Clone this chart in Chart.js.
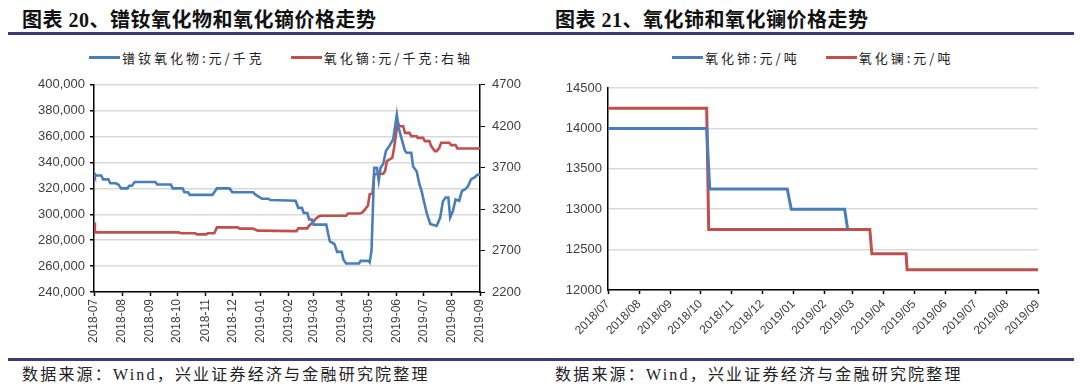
<!DOCTYPE html>
<html>
<head>
<meta charset="utf-8">
<script src="https://cdn.jsdelivr.net/npm/chart.js@4.4.0/dist/chart.umd.min.js"></script>
<style>
body{margin:0;width:1080px;height:389px;background:#fff;position:relative;overflow:hidden;}
.title{position:absolute;top:4px;font:bold 20px "Liberation Serif","Noto Sans CJK SC",serif;color:#111;letter-spacing:0.5px;white-space:nowrap;}
.rule{position:absolute;left:8px;width:1066px;height:3px;background:#3a3b78;}
.foot{position:absolute;top:361px;font:16px "Liberation Serif","Noto Sans CJK SC",serif;color:#222;letter-spacing:2.2px;white-space:nowrap;}
.legend{position:absolute;top:49px;height:16px;display:flex;align-items:center;gap:26px;font:13px "Noto Sans CJK SC",sans-serif;color:#222;letter-spacing:3px;white-space:nowrap;}
.legend span.ln{display:inline-block;width:31px;height:3px;margin-right:2px;vertical-align:middle;}
.legend div{display:flex;align-items:center;}
.box{position:absolute;top:70px;width:540px;height:285px;}
</style>
</head>
<body>
<div class="title" style="left:22px">图表 20、镨钕氧化物和氧化镝价格走势</div>
<div class="title" style="left:555px">图表 21、氧化铈和氧化镧价格走势</div>
<div class="rule" style="top:32px"></div>
<div class="legend" id="leg1" style="left:89px"></div>
<div class="legend" id="leg2" style="left:672px"></div>
<div class="box" style="left:0"><canvas id="c1"></canvas></div>
<div class="box" style="left:540px"><canvas id="c2"></canvas></div>
<div class="rule" style="top:358px"></div>
<div class="foot" style="left:22px">数据来源：Wind，兴业证券经济与金融研究院整理</div>
<div class="foot" style="left:555px">数据来源：Wind，兴业证券经济与金融研究院整理</div>
<script>
// month ticks
var months1 = ['2018-07','2018-08','2018-09','2018-10','2018-11','2018-12','2019-01','2019-02','2019-03','2019-04','2019-05','2019-06','2019-07','2019-08','2019-09'];
var months2 = ['2018/07','2018/08','2018/09','2018/10','2018/11','2018/12','2019/01','2019/02','2019/03','2019/04','2019/05','2019/06','2019/07','2019/08','2019/09'];

// 镨钕氧化物 元/千克 (left axis)
var prndDates = ['2018-07-01','2018-07-02','2018-07-09','2018-07-11','2018-07-17','2018-07-19','2018-07-25','2018-07-28','2018-07-31','2018-08-07','2018-08-09','2018-08-12','2018-08-15','2018-09-07','2018-09-09','2018-09-24','2018-09-26','2018-10-07','2018-10-09','2018-10-13','2018-10-15','2018-11-09','2018-11-11','2018-11-14','2018-11-28','2018-12-01','2018-12-24','2018-12-27','2019-01-03','2019-01-10','2019-01-12','2019-02-09','2019-02-12','2019-02-16','2019-02-18','2019-02-22','2019-02-24','2019-02-27','2019-03-01','2019-03-15','2019-03-17','2019-03-19','2019-03-24','2019-03-27','2019-04-01','2019-04-03','2019-04-06','2019-04-20','2019-04-22','2019-05-01','2019-05-02','2019-05-04','2019-05-07','2019-05-10','2019-05-12','2019-05-14','2019-05-17','2019-05-20','2019-05-24','2019-05-28','2019-06-01','2019-06-03','2019-06-06','2019-06-10','2019-06-12','2019-06-17','2019-06-19','2019-06-23','2019-06-26','2019-06-28','2019-07-01','2019-07-04','2019-07-08','2019-07-15','2019-07-19','2019-07-22','2019-07-25','2019-07-28','2019-07-30','2019-08-02','2019-08-05','2019-08-09','2019-08-12','2019-08-16','2019-08-19','2019-08-22','2019-08-26','2019-08-29','2019-09-01'];
var prndValues = [332000,330000,330000,327000,327000,324000,324000,323000,320000,320000,322000,322000,325000,325000,323000,323000,320000,320000,317000,317000,315000,315000,317000,320000,320000,317000,317000,315000,312000,312000,311000,310500,305000,305000,301000,301000,296000,296000,292000,292000,285000,279000,277000,271000,271000,265000,262000,262000,264000,264000,263000,272000,336000,336000,326000,336000,339000,349000,353000,358000,377000,367000,359000,349000,347500,347500,337000,333000,323000,319000,310000,301000,292500,291000,297500,310000,313000,313000,297500,302500,311500,310500,318000,319500,322000,327000,328500,330500,330500];

// 氧化镝 元/千克 (right axis)
var dyDates = ['2018-07-01','2018-07-02','2018-10-03','2018-10-05','2018-10-21','2018-10-23','2018-11-02','2018-11-04','2018-11-11','2018-11-14','2018-12-07','2018-12-09','2018-12-24','2018-12-29','2019-02-10','2019-02-12','2019-02-22','2019-02-24','2019-02-28','2019-03-03','2019-03-06','2019-03-09','2019-04-06','2019-04-08','2019-04-21','2019-04-24','2019-04-27','2019-04-30','2019-05-02','2019-05-05','2019-05-07','2019-05-17','2019-05-19','2019-05-21','2019-05-27','2019-05-29','2019-05-31','2019-06-02','2019-06-04','2019-06-08','2019-06-10','2019-06-15','2019-06-17','2019-06-23','2019-06-24','2019-06-30','2019-07-02','2019-07-07','2019-07-09','2019-07-13','2019-07-15','2019-07-18','2019-07-20','2019-07-29','2019-07-31','2019-08-05','2019-08-07','2019-09-01'];
var dyValues = [3040,2920,2920,2908,2908,2895,2895,2908,2908,2980,2980,2965,2965,2940,2935,2968,2968,3000,3040,3080,3108,3120,3120,3148,3148,3160,3200,3240,3380,3388,3620,3628,3660,3780,3820,3940,4100,4240,4200,4200,4120,4120,4080,4080,4060,4060,4020,4020,3960,3900,3900,3940,4000,4000,3972,3972,3932,3932];

// 氧化铈 / 氧化镧 元/吨
var ceDates = ['2018-07-01','2018-10-07','2018-10-10','2018-12-26','2018-12-30','2019-02-21','2019-02-24'];
var ceValues = [14000,14000,13250,13250,13000,13000,12750];
var laDates = ['2018-07-01','2018-10-07','2018-10-09','2019-03-18','2019-03-20','2019-04-23','2019-04-24','2019-09-01'];
var laValues = [14250,14250,12750,12750,12450,12450,12250,12250];

var BLUE = '#4a7ebb', RED = '#c0504d';

function dayOf(s) {
	s = s.replace(/\//g, '-');
	if (s.length == 7) s += '-01';
	return (Date.UTC(+s.slice(0,4), +s.slice(5,7) - 1, +s.slice(8,10)) - Date.UTC(2018, 6, 1)) / 86400000;
}
function pts(dates, values) {
	return dates.map(function(d, i) { return {x: dayOf(d), y: values[i]}; });
}

Chart.defaults.font.family = '"Liberation Sans", Arial, sans-serif';
Chart.defaults.color = '#404040';
Chart.defaults.animation = false;

function xAxis(labels, rot, h) {
	var days = labels.map(dayOf);
	return {
		type: 'linear', min: days[0], max: days[days.length - 1],
		afterBuildTicks: function(s) { s.ticks = days.map(function(v) { return {value: v}; }); },
		afterFit: function(s) { s.height = h; },
		grid: {drawOnChartArea: false, tickLength: 4, tickColor: '#000', tickWidth: 1.5},
		border: {color: '#000', width: 1.5},
		ticks: {autoSkip: false, maxRotation: rot, minRotation: rot, font: {size: 12}, padding: 3,
			callback: function(v) { return labels[days.indexOf(v)]; }}
	};
}

function legend(chart, id) {
	var el = document.getElementById(id);
	chart.data.datasets.forEach(function(ds) {
		var d = document.createElement('div');
		d.innerHTML = '<span class="ln" style="background:' + ds.borderColor + '"></span>' + ds.label;
		el.appendChild(d);
	});
}

var chart1 = new Chart(document.getElementById('c1'), {
	type: 'line',
	data: {datasets: [
		{label: '镨钕氧化物:元/千克', data: pts(prndDates, prndValues), borderColor: BLUE, borderWidth: 2.6, pointRadius: 0, yAxisID: 'y'},
		{label: '氧化镝:元/千克:右轴', data: pts(dyDates, dyValues), borderColor: RED, borderWidth: 2.6, pointRadius: 0, yAxisID: 'y1'}
	]},
	options: {
		responsive: true, maintainAspectRatio: false,
		layout: {padding: {top: 13, left: 0, right: 0, bottom: 0}},
		plugins: {legend: {display: false}, tooltip: {enabled: false}},
		scales: {
			x: xAxis(months1, 90, 63),
			y: {min: 240000, max: 400000,
				afterFit: function(s) { s.width = 94; },
				ticks: {stepSize: 20000, font: {size: 13}, padding: 5, callback: function(v) { return v.toLocaleString('en-US'); }},
				grid: {color: '#d9d9d9', lineWidth: 1.5, tickColor: '#000', tickLength: 4},
				border: {color: '#000', width: 1.5}},
			y1: {position: 'right', min: 2200, max: 4700,
				afterFit: function(s) { s.width = 60; },
				ticks: {stepSize: 500, font: {size: 13}, padding: 7, callback: function(v) { return String(v); }},
				grid: {drawOnChartArea: false, tickColor: '#000', tickLength: 5},
				border: {color: '#000', width: 1.5}}
		}
	}
});
legend(chart1, 'leg1');

var chart2 = new Chart(document.getElementById('c2'), {
	type: 'line',
	data: {datasets: [
		{label: '氧化铈:元/吨', data: pts(ceDates, ceValues), borderColor: BLUE, borderWidth: 3, pointRadius: 0},
		{label: '氧化镧:元/吨', data: pts(laDates, laValues), borderColor: RED, borderWidth: 3, pointRadius: 0}
	]},
	options: {
		responsive: true, maintainAspectRatio: false,
		layout: {padding: {top: 18, left: 0, right: 42, bottom: 0}},
		plugins: {legend: {display: false}, tooltip: {enabled: false}},
		scales: {
			x: xAxis(months2, 45, 65),
			y: {min: 12000, max: 14500,
				afterFit: function(s) { s.width = 68; },
				ticks: {stepSize: 500, font: {size: 13}, padding: 6, callback: function(v) { return String(v); }},
				grid: {color: '#d9d9d9', lineWidth: 1.5, tickColor: '#000', tickLength: 0},
				border: {color: '#000', width: 1.5}}
		}
	}
});
legend(chart2, 'leg2');
</script>
</body>
</html>
